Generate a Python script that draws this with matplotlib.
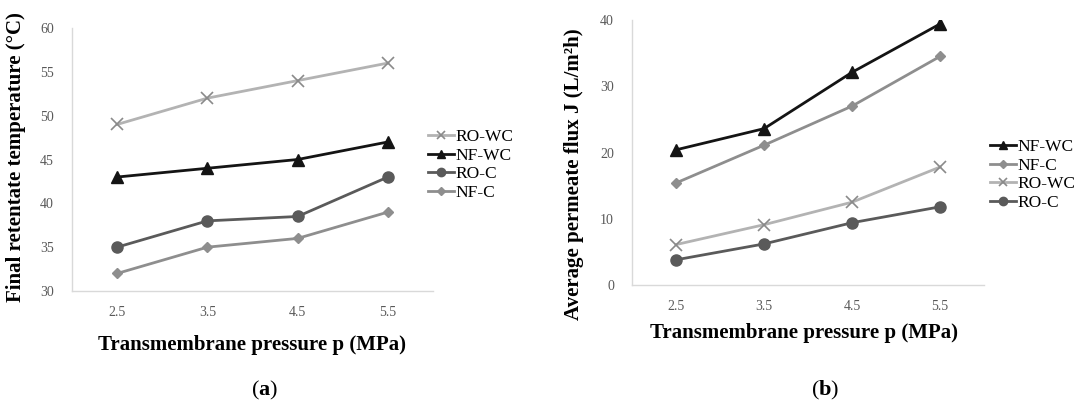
import matplotlib
matplotlib.use("Agg")
import matplotlib.pyplot as plt

pressure = ["2.5", "3.5", "4.5", "5.5"]

# (a) final retentate temperature, °C
temp_ro_wc = [49, 52, 54, 56]
temp_nf_wc = [43, 44, 45, 47]
temp_ro_c = [35, 38, 38.5, 43]
temp_nf_c = [32, 35, 36, 39]

# (b) average permeate flux, L/m2h
flux_nf_wc = [20.4, 23.6, 32.1, 39.4]
flux_nf_c = [15.4, 21.1, 27.0, 34.5]
flux_ro_wc = [6.1, 9.1, 12.5, 17.8]
flux_ro_c = [3.8, 6.2, 9.4, 11.8]

plt.rcParams["font.family"] = ["Liberation Serif", "DejaVu Serif"]
plt.rcParams["mathtext.fontset"] = "custom"
plt.rcParams["mathtext.rm"] = "Liberation Serif"
plt.rcParams["mathtext.bf"] = "Liberation Serif:bold"

styles = {
    "RO-WC": dict(color="#b3b3b3", marker="x", markersize=8, markeredgewidth=1.2,
                  markeredgecolor="#8a8a8a"),
    "NF-WC": dict(color="#141414", marker="^", markersize=8),
    "RO-C": dict(color="#5a5a5a", marker="o", markersize=8),
    "NF-C": dict(color="#8e8e8e", marker="D", markersize=5.5),
}

W, H = 1079, 409
fig = plt.figure(figsize=(W / 100, H / 100), dpi=100)


def px_axes(x0, y0, x1, y1):
    return fig.add_axes([x0 / W, 1 - y1 / H, (x1 - x0) / W, (y1 - y0) / H])


def style_axes(ax):
    for s in ["top", "right"]:
        ax.spines[s].set_visible(False)
    for s in ["left", "bottom"]:
        ax.spines[s].set_color("#d9d9d9")
        ax.spines[s].set_linewidth(1.0)
    ax.tick_params(length=0, labelsize=10, labelcolor="#595959")
    ax.tick_params(axis="y", pad=13)
    ax.tick_params(axis="x", pad=11)
    ax.set_xlim(-0.5, 3.5)
    ax.set_xticks(range(len(pressure)))
    ax.set_xticklabels(pressure)


def add_legend(ax, x, y):
    h, l = ax.get_legend_handles_labels()
    fig.legend(h, l, loc="center left", bbox_to_anchor=(x / W, 1 - y / H),
               frameon=False, fontsize=12.5, handlelength=1.5, handletextpad=0.1,
               labelspacing=0.15, borderpad=0, borderaxespad=0, markerscale=0.75)


xs = range(len(pressure))

# panel (a)
ax1 = px_axes(72, 28, 433, 291)
for name, vals in [("RO-WC", temp_ro_wc), ("NF-WC", temp_nf_wc),
                   ("RO-C", temp_ro_c), ("NF-C", temp_nf_c)]:
    ax1.plot(xs, vals, label=name, linewidth=2, **styles[name])
style_axes(ax1)
ax1.set_ylim(30, 60)
ax1.set_yticks(range(30, 61, 5))
ax1.set_ylabel("Final retentate temperature (°C)", fontsize=15, fontweight="bold")
ax1.yaxis.set_label_coords(-0.128, 0.51)
add_legend(ax1, 428, 165)

# panel (b)
ax2 = px_axes(632, 20, 984, 285)
for name, vals in [("NF-WC", flux_nf_wc), ("NF-C", flux_nf_c),
                   ("RO-WC", flux_ro_wc), ("RO-C", flux_ro_c)]:
    ax2.plot(xs, vals, label=name, linewidth=2, **styles[name])
style_axes(ax2)
ax2.set_ylim(0, 40)
ax2.set_yticks(range(0, 41, 10))
ax2.set_ylabel("Average permeate flux J (L/m²h)", fontsize=15, fontweight="bold")
ax2.yaxis.set_label_coords(-0.136, 0.42)
add_legend(ax2, 990, 175)

fig.text(252 / W, 1 - 345 / H, "Transmembrane pressure p (MPa)", ha="center",
         va="center", fontsize=15, fontweight="bold")
fig.text(804 / W, 1 - 333 / H, "Transmembrane pressure p (MPa)", ha="center",
         va="center", fontsize=15, fontweight="bold")
fig.text(265 / W, 1 - 390 / H, r"($\mathbf{a}$)", ha="center", va="center", fontsize=16)
fig.text(825 / W, 1 - 390 / H, r"($\mathbf{b}$)", ha="center", va="center", fontsize=16)

fig.savefig("out.png", dpi=100)
